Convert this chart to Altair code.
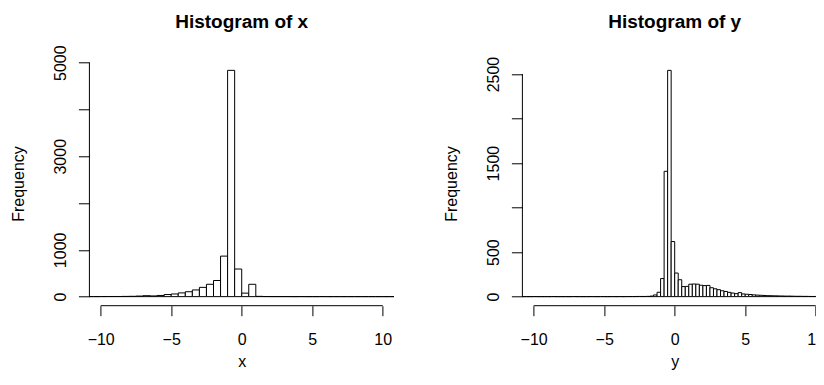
import altair as alt
import pandas as pd

FONT = "Liberation Sans"

# ---- data ----
x_break_start = -11.0
x_bin_width = 0.5
x_counts = [1, 1, 2, 3, 3, 5, 7, 12, 20, 15, 25, 45, 57, 80, 105, 143, 198, 264, 345, 866,
            4836, 590, 75, 264, 6, 2, 1, 1, 1, 0, 1, 0, 0, 1, 0, 0, 0, 0, 0, 0, 0, 0, 0, 0]

y_break_start = -11.0
y_bin_width = 0.25
y_counts = [0, 0, 0, 0, 1, 0, 0, 0, 0, 1, 0, 0, 0, 0, 0, 1, 0, 0, 0, 0,
            1, 0, 0, 1, 0, 0, 1, 0, 1, 0, 1, 1, 1, 2, 2, 2, 3, 6, 19, 49,
            203, 1408, 2542, 619, 265, 190, 113, 115, 140, 142, 140, 128, 124, 126, 100, 88,
            78, 66, 58, 48, 40, 34, 45, 30, 27, 24, 20, 17, 15, 13, 11, 10, 9, 8, 7, 6,
            6, 5, 4, 4, 3, 3, 2, 2, 2, 1, 1, 1]

x_tick_values = [-10, -5, 0, 5, 10]
x_freq_ticks = [0, 1000, 2000, 3000, 4000, 5000]
x_freq_labels = [0, 1000, 3000, 5000]
y_freq_ticks = [0, 500, 1000, 1500, 2000, 2500]
y_freq_labels = [0, 500, 1500, 2500]

# ---- layout (pixels) ----
H = 244.4
USR = 10.8
W1 = 304.6
UNIT = W1 / (2 * USR)
GAP = 128.4
X2_START = W1 + GAP
PAD_L = 81.4
TOTAL_W = 808 - PAD_L
W2 = TOTAL_W - X2_START
X2MAX = -USR + W2 / UNIT


def panel(counts, start, width, var, freq_ticks, freq_labels, xmax, r0, r1, title):
    lo = [start + i * width for i in range(len(counts))]
    df = pd.DataFrame({"lo": lo, "count": counts})
    df["hi"] = df["lo"] + width
    # clip bins to the visible plotting region (as R clips to the plot region)
    df["lo"] = df["lo"].clip(lower=-USR, upper=xmax)
    df["hi"] = df["hi"].clip(lower=-USR, upper=xmax)
    df = df[df["hi"] > df["lo"]]
    ymax = max(counts)
    xs = alt.Scale(domain=[-USR, xmax], range=[r0, r1], nice=False, zero=False)
    ys = alt.Scale(domain=[-0.04 * ymax, 1.04 * ymax], nice=False, zero=False)
    lab_expr = "indexof(" + str(freq_labels) + ", datum.value) >= 0 ? datum.label : ''"
    bars = alt.Chart(df).mark_rect(fill="white", stroke="black", strokeWidth=1).encode(
        x=alt.X("lo:Q", scale=xs, axis=alt.Axis(
            orient="bottom", values=x_tick_values, domain=False, grid=False, tickSize=10,
            tickColor="black", tickWidth=1, labelFont=FONT, labelFontSize=16,
            labelColor="black", labelPadding=16, labelBaseline="top", labelFlush=False,
            labelOverlap=False, title=var, titleFont=FONT, titleFontSize=16,
            titleFontWeight="normal", titleColor="black", titleBaseline="alphabetic",
            titleAlign="center", titleY=61.3, titleX=r0 + USR * UNIT)),
        x2="hi:Q",
        y=alt.Y("count:Q", scale=ys, axis=alt.Axis(
            orient="left", offset=-r0, values=freq_ticks, labelExpr=lab_expr, format="d",
            domain=False, grid=False, tickSize=11, tickColor="black", tickWidth=1,
            labelFont=FONT, labelFontSize=16, labelColor="black", labelAngle=270,
            labelAlign="center", labelBaseline="alphabetic", labelPadding=12.5,
            labelOverlap=False, labelFlush=False, title="Frequency", titleFont=FONT,
            titleFontSize=16, titleFontWeight="normal", titleColor="black", titleAngle=270,
            titleAlign="center", titleBaseline="alphabetic", titleX=-66.2, titleY=H / 2)),
        y2=alt.datum(0),
    )
    xline = alt.Chart(pd.DataFrame({"lo": [x_tick_values[0]], "hi": [x_tick_values[-1]]})).mark_rule(
        color="black", strokeWidth=1).encode(
        x=alt.X("lo:Q", scale=xs), x2="hi:Q", y=alt.value(H))
    yline = alt.Chart(pd.DataFrame({"lo": [-USR], "count": [freq_ticks[0]], "top": [freq_ticks[-1]]})).mark_rule(
        color="black", strokeWidth=1).encode(
        x=alt.X("lo:Q", scale=xs),
        y=alt.Y("count:Q", scale=ys), y2="top:Q")
    ttl = alt.Chart(pd.DataFrame({"t": [title]})).mark_text(
        font=FONT, fontSize=19, fontWeight="bold", color="black", align="center",
        baseline="alphabetic").encode(
        text="t:N", x=alt.value(r0 + USR * UNIT), y=alt.value(-33))
    return alt.layer(bars, xline, yline, ttl)


left = panel(x_counts, x_break_start, x_bin_width, "x", x_freq_ticks, x_freq_labels,
             USR, 0, W1, "Histogram of x")
right = panel(y_counts, y_break_start, y_bin_width, "y", y_freq_ticks, y_freq_labels,
              X2MAX, X2_START, TOTAL_W, "Histogram of y")

chart = alt.layer(left, right).resolve_scale(x="independent", y="independent").resolve_axis(
    x="independent", y="independent").properties(
    width=TOTAL_W, height=H,
    autosize=alt.AutoSizeParams(type="none"),
    padding={"left": PAD_L, "top": 53.3, "right": 0, "bottom": 66},
    background="white",
).configure_view(stroke=None)

chart.save("out.html", embed_options={"renderer": "svg", "actions": False})
